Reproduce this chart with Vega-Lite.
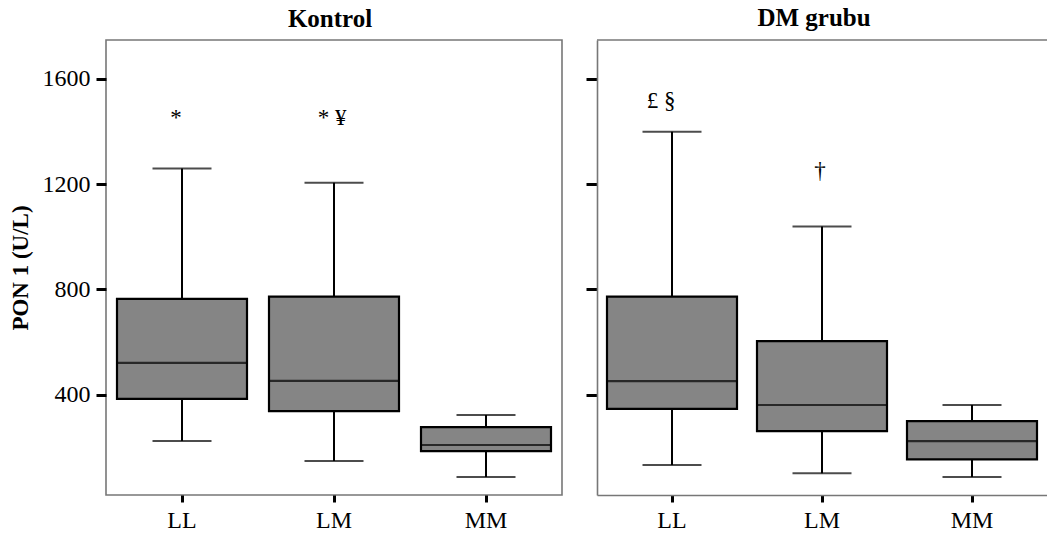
{
  "$schema": "https://vega.github.io/schema/vega-lite/v6.json",
  "padding": {"left": 8, "top": 6, "right": 0, "bottom": 0},
  "spacing": 21,
  "background": "white",
  "config": {
    "font": "Liberation Serif",
    "view": {"stroke": "#777777", "strokeWidth": 1.6},
    "axis": {"grid": false, "domain": false, "labelColor": "black", "tickColor": "black", "labelFont": "Liberation Serif", "labelFontSize": 24, "titleFont": "Liberation Serif", "titleColor": "black"},
    "title": {"font": "Liberation Serif", "fontSize": 25, "fontWeight": "bold", "color": "black", "offset": 8}
  },
  "datasets": {
    "stats": [
      {"group": "Kontrol", "genotype": "LL", "lower": 224, "q1": 384, "median": 521, "q3": 764, "upper": 1260},
      {"group": "Kontrol", "genotype": "LM", "lower": 148, "q1": 338, "median": 453, "q3": 773, "upper": 1206},
      {"group": "Kontrol", "genotype": "MM", "lower": 87, "q1": 186, "median": 209, "q3": 277, "upper": 323},
      {"group": "DM grubu", "genotype": "LL", "lower": 133, "q1": 346, "median": 452, "q3": 773, "upper": 1399},
      {"group": "DM grubu", "genotype": "LM", "lower": 102, "q1": 262, "median": 361, "q3": 604, "upper": 1039},
      {"group": "DM grubu", "genotype": "MM", "lower": 87, "q1": 154, "median": 224, "q3": 300, "upper": 361}
    ],
    "notes": [
      {"group": "Kontrol", "genotype": "LL", "label": "*", "y": 1452},
      {"group": "Kontrol", "genotype": "LM", "label": "* ¥", "y": 1452},
      {"group": "DM grubu", "genotype": "LL", "label": "£ §", "y": 1516},
      {"group": "DM grubu", "genotype": "LM", "label": "†", "y": 1250}
    ],
    "frame": [{"top": 1748}]
  },
  "hconcat": [
    {
      "width": 456,
      "height": 455,
      "title": {"text": "Kontrol", "dx": -4},
      "layer": [
        {
          "data": {"name": "stats"},
          "transform": [{"filter": "datum.group === 'Kontrol'"}],
          "mark": {"type": "rule", "color": "black", "strokeWidth": 2},
          "encoding": {
            "x": {"field": "genotype", "type": "nominal", "scale": {"domain": ["LL", "LM", "MM"], "paddingInner": 0, "paddingOuter": 0}, "axis": {"title": null, "labelAngle": 0, "tickSize": 7, "tickWidth": 3, "labelPadding": 6}},
            "y": {"field": "lower", "type": "quantitative", "title": "PON 1 (U/L)", "scale": {"domain": [19, 1748], "nice": false, "zero": false}, "axis": {"values": [400, 800, 1200, 1600], "format": "d", "tickSize": 10, "tickWidth": 3, "labelPadding": 6, "titleFontSize": 23, "titleFontWeight": "bold", "titlePadding": 10}},
            "y2": {"field": "upper"}
          }
        },
        {
          "data": {"name": "stats"},
          "transform": [{"filter": "datum.group === 'Kontrol'"}],
          "mark": {"type": "tick", "color": "black", "size": 59, "thickness": 2},
          "encoding": {
            "x": {"field": "genotype", "type": "nominal"},
            "y": {"field": "lower", "type": "quantitative", "title": "PON 1 (U/L)"}
          }
        },
        {
          "data": {"name": "stats"},
          "transform": [{"filter": "datum.group === 'Kontrol'"}],
          "mark": {"type": "tick", "color": "black", "size": 59, "thickness": 2},
          "encoding": {
            "x": {"field": "genotype", "type": "nominal"},
            "y": {"field": "upper", "type": "quantitative", "title": "PON 1 (U/L)"}
          }
        },
        {
          "data": {"name": "stats"},
          "transform": [{"filter": "datum.group === 'Kontrol'"}],
          "mark": {"type": "bar", "fill": "#858585", "stroke": "black", "strokeWidth": 2.2, "size": 130},
          "encoding": {
            "x": {"field": "genotype", "type": "nominal"},
            "y": {"field": "q1", "type": "quantitative", "title": "PON 1 (U/L)"},
            "y2": {"field": "q3"}
          }
        },
        {
          "data": {"name": "stats"},
          "transform": [{"filter": "datum.group === 'Kontrol'"}],
          "mark": {"type": "tick", "color": "black", "size": 130, "thickness": 2.2},
          "encoding": {
            "x": {"field": "genotype", "type": "nominal"},
            "y": {"field": "median", "type": "quantitative", "title": "PON 1 (U/L)"}
          }
        },
        {
          "data": {"name": "notes"},
          "transform": [{"filter": "datum.group === 'Kontrol' && datum.genotype === 'LL'"}],
          "mark": {"type": "text", "font": "Liberation Serif", "fontSize": 23, "baseline": "middle", "color": "black", "dx": -6},
          "encoding": {
            "x": {"field": "genotype", "type": "nominal"},
            "y": {"field": "y", "type": "quantitative", "title": "PON 1 (U/L)"},
            "text": {"field": "label"}
          }
        },
        {
          "data": {"name": "notes"},
          "transform": [{"filter": "datum.group === 'Kontrol' && datum.genotype === 'LM'"}],
          "mark": {"type": "text", "font": "Liberation Serif", "fontSize": 23, "baseline": "middle", "color": "black", "dx": -2},
          "encoding": {
            "x": {"field": "genotype", "type": "nominal"},
            "y": {"field": "y", "type": "quantitative", "title": "PON 1 (U/L)"},
            "text": {"field": "label"}
          }
        }
      ]
    },
    {
      "width": 450,
      "height": 455,
      "view": {"stroke": null},
      "title": {"text": "DM grubu", "dx": -8},
      "layer": [
        {
          "data": {"name": "stats"},
          "transform": [{"filter": "datum.group === 'DM grubu'"}],
          "mark": {"type": "rule", "color": "black", "strokeWidth": 2},
          "encoding": {
            "x": {"field": "genotype", "type": "nominal", "scale": {"domain": ["LL", "LM", "MM"], "paddingInner": 0, "paddingOuter": 0}, "axis": {"title": null, "labelAngle": 0, "tickSize": 7, "tickWidth": 3, "labelPadding": 6, "domain": true, "domainColor": "#777777", "domainWidth": 1.6}},
            "y": {"field": "lower", "type": "quantitative", "title": null, "scale": {"domain": [19, 1748], "nice": false, "zero": false}, "axis": {"values": [400, 800, 1200, 1600], "labels": false, "tickSize": 11, "tickWidth": 3, "domain": true, "domainColor": "#777777", "domainWidth": 1.6}},
            "y2": {"field": "upper"}
          }
        },
        {
          "data": {"name": "frame"},
          "mark": {"type": "rule", "color": "#777777", "strokeWidth": 1.6},
          "encoding": {
            "y": {"field": "top", "type": "quantitative", "title": null}
          }
        },
        {
          "data": {"name": "stats"},
          "transform": [{"filter": "datum.group === 'DM grubu'"}],
          "mark": {"type": "tick", "color": "black", "size": 59, "thickness": 2},
          "encoding": {
            "x": {"field": "genotype", "type": "nominal"},
            "y": {"field": "lower", "type": "quantitative", "title": null}
          }
        },
        {
          "data": {"name": "stats"},
          "transform": [{"filter": "datum.group === 'DM grubu'"}],
          "mark": {"type": "tick", "color": "black", "size": 59, "thickness": 2},
          "encoding": {
            "x": {"field": "genotype", "type": "nominal"},
            "y": {"field": "upper", "type": "quantitative", "title": null}
          }
        },
        {
          "data": {"name": "stats"},
          "transform": [{"filter": "datum.group === 'DM grubu'"}],
          "mark": {"type": "bar", "fill": "#858585", "stroke": "black", "strokeWidth": 2.2, "size": 130},
          "encoding": {
            "x": {"field": "genotype", "type": "nominal"},
            "y": {"field": "q1", "type": "quantitative", "title": null},
            "y2": {"field": "q3"}
          }
        },
        {
          "data": {"name": "stats"},
          "transform": [{"filter": "datum.group === 'DM grubu'"}],
          "mark": {"type": "tick", "color": "black", "size": 130, "thickness": 2.2},
          "encoding": {
            "x": {"field": "genotype", "type": "nominal"},
            "y": {"field": "median", "type": "quantitative", "title": null}
          }
        },
        {
          "data": {"name": "notes"},
          "transform": [{"filter": "datum.group === 'DM grubu' && datum.genotype === 'LL'"}],
          "mark": {"type": "text", "font": "Liberation Serif", "fontSize": 23, "baseline": "middle", "color": "black", "dx": -11},
          "encoding": {
            "x": {"field": "genotype", "type": "nominal"},
            "y": {"field": "y", "type": "quantitative", "title": null},
            "text": {"field": "label"}
          }
        },
        {
          "data": {"name": "notes"},
          "transform": [{"filter": "datum.group === 'DM grubu' && datum.genotype === 'LM'"}],
          "mark": {"type": "text", "font": "Liberation Serif", "fontSize": 23, "baseline": "middle", "color": "black", "dx": -2},
          "encoding": {
            "x": {"field": "genotype", "type": "nominal"},
            "y": {"field": "y", "type": "quantitative", "title": null},
            "text": {"field": "label"}
          }
        }
      ]
    }
  ]
}
